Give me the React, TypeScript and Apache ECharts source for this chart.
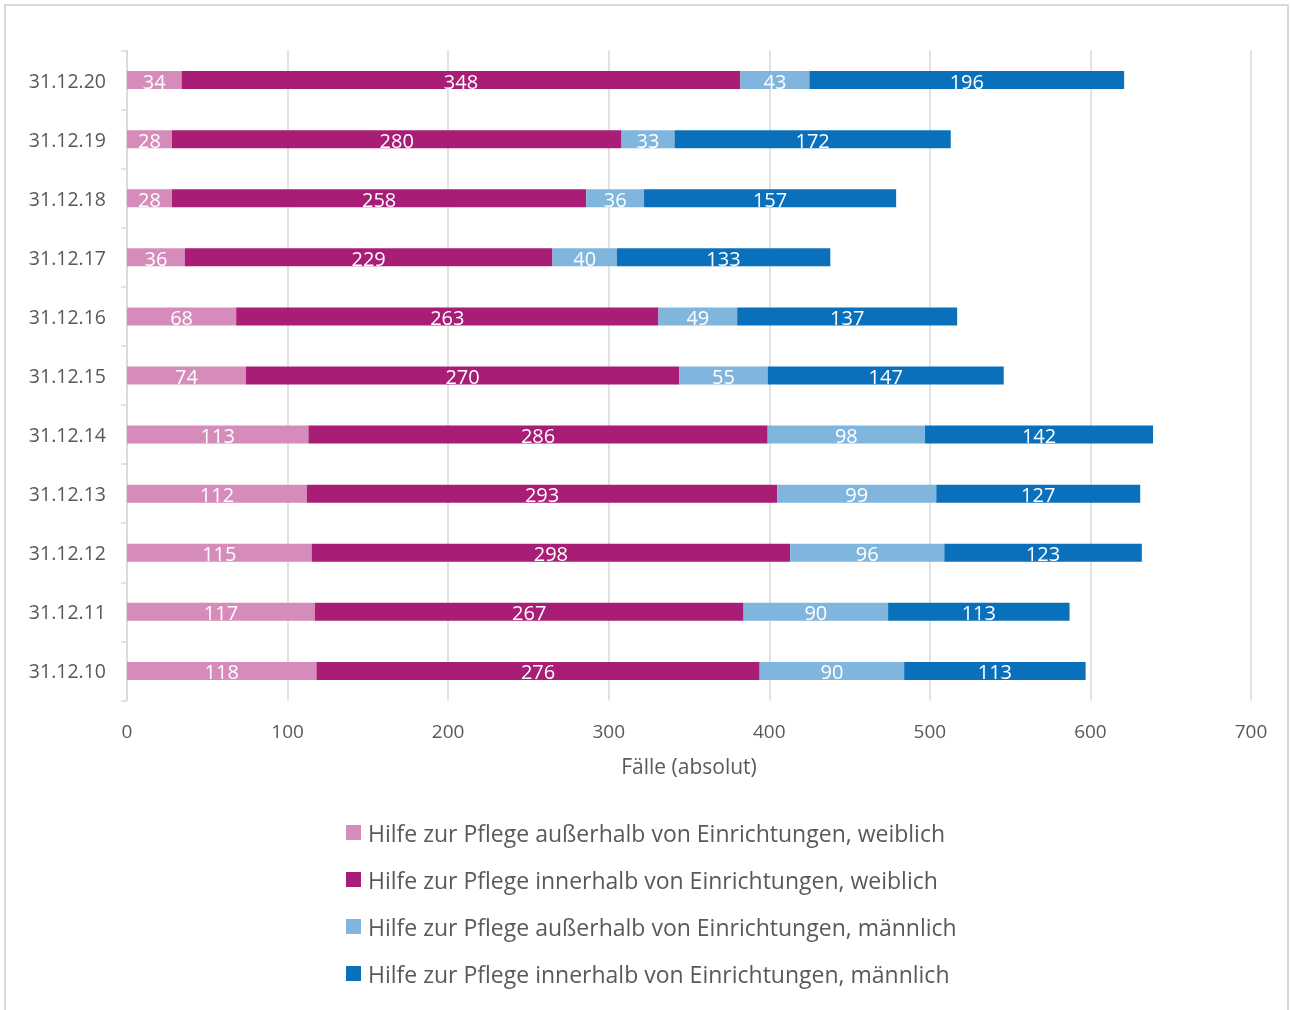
import React, { useEffect, useRef } from "react";
import * as echarts from "echarts";

const categories = ["31.12.10", "31.12.11", "31.12.12", "31.12.13", "31.12.14", "31.12.15", "31.12.16", "31.12.17", "31.12.18", "31.12.19", "31.12.20"];
const outsideFemale = [118, 117, 115, 112, 113, 74, 68, 36, 28, 28, 34];
const insideFemale = [276, 267, 298, 293, 286, 270, 263, 229, 258, 280, 348];
const outsideMale = [90, 90, 96, 99, 98, 55, 49, 40, 36, 33, 43];
const insideMale = [113, 113, 123, 127, 142, 147, 137, 133, 157, 172, 196];
const seriesNames = [
  "Hilfe zur Pflege außerhalb von Einrichtungen, weiblich",
  "Hilfe zur Pflege innerhalb von Einrichtungen, weiblich",
  "Hilfe zur Pflege außerhalb von Einrichtungen, männlich",
  "Hilfe zur Pflege innerhalb von Einrichtungen, männlich",
];
const colors = ["#D58CBA", "#A81D76", "#80B6DE", "#0B70BB"];
const FONT = "'Open Sans', Lato, sans-serif";

export default function App() {
  const ref = useRef<HTMLDivElement>(null);
  useEffect(() => {
    if (!ref.current) return;
    const chart = echarts.init(ref.current, undefined, { renderer: "svg" });
    const values = [outsideFemale, insideFemale, outsideMale, insideMale];
    chart.setOption({
      animation: false,
      textStyle: { fontFamily: FONT },
      graphic: [
        {
          type: "rect",
          shape: { x: 5, y: 5, width: 1283, height: 1020 },
          style: { fill: "none", stroke: "#d9d9d9", lineWidth: 2 },
          silent: true,
        },
      ],
      grid: { left: 127, right: 39, top: 50.5, bottom: 309.5, containLabel: false },
      xAxis: {
        type: "value",
        min: 0,
        max: 700,
        interval: 100,
        name: "Fälle (absolut)",
        nameLocation: "middle",
        nameGap: 55,
        nameTextStyle: { color: "#595959", fontSize: 21, fontFamily: FONT },
        axisLine: { show: false },
        axisTick: { show: false },
        axisLabel: { color: "#595959", fontSize: 19, margin: 21, fontFamily: FONT },
        splitLine: { show: true, lineStyle: { color: "#d9d9d9", width: 1.5 } },
      },
      yAxis: {
        type: "category",
        data: categories,
        axisLine: { show: true, lineStyle: { color: "#d9d9d9", width: 1.5 } },
        axisTick: { show: true, length: 6, lineStyle: { color: "#d9d9d9", width: 1.5 } },
        axisLabel: { color: "#595959", fontSize: 19.5, margin: 21, fontFamily: FONT },
      },
      legend: {
        orient: "vertical",
        left: 346,
        top: 821,
        padding: 0,
        itemWidth: 15,
        itemHeight: 15,
        itemGap: 24,
        icon: "rect",
        textStyle: { color: "#595959", fontSize: 23, fontFamily: FONT, padding: [0, 0, 0, 2] },
        data: seriesNames,
      },
      series: seriesNames.map((name, i) => ({
        name,
        type: "bar",
        stack: "total",
        barWidth: 18,
        itemStyle: { color: colors[i] },
        label: {
          show: true,
          position: "inside",
          color: "#ffffff",
          fontSize: 20,
          fontFamily: FONT,
          offset: [0, 1],
        },
        data: values[i],
      })),
    });
    return () => chart.dispose();
  }, []);
  return <div ref={ref} style={{ position: "fixed", left: 0, top: 0, width: 1290, height: 1010 }} />;
}
